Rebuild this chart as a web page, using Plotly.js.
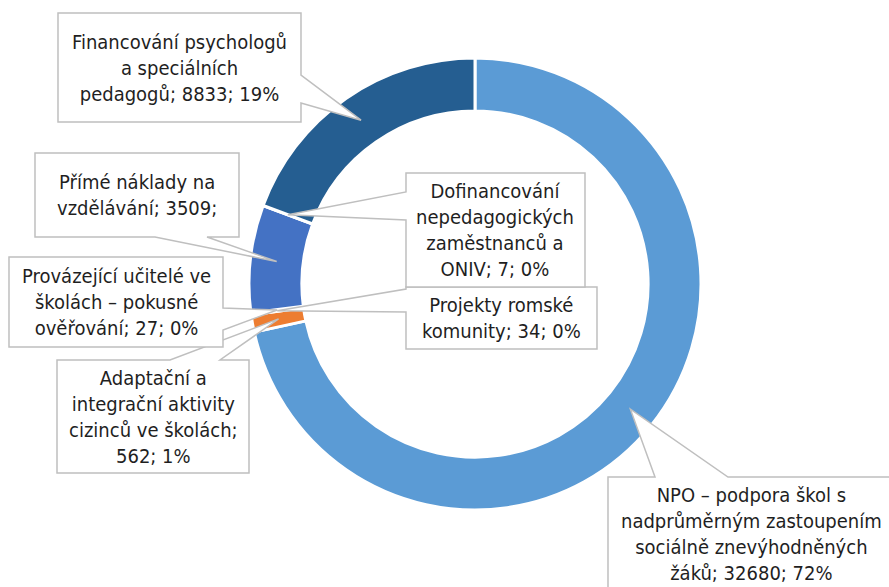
<!DOCTYPE html>
<html>
<head>
<meta charset="utf-8">
<script src="https://cdn.plot.ly/plotly-3.0.1.min.js"></script>
<style>html,body{margin:0;padding:0;background:#fff;}#chart{width:889px;height:587px;}</style>
</head>
<body>
<div id="chart"></div>
<script>
// ---- data ----
const categories = [
  "NPO – podpora škol s nadprůměrným zastoupením sociálně znevýhodněných žáků",
  "Adaptační a integrační aktivity cizinců ve školách",
  "Projekty romské komunity",
  "Provázející učitelé ve školách – pokusné ověřování",
  "Přímé náklady na vzdělávání",
  "Dofinancování nepedagogických zaměstnanců a ONIV",
  "Financování psychologů a speciálních pedagogů"
];
const values = [32680, 562, 34, 27, 3509, 7, 8833];
const labelTexts = [
  "NPO – podpora škol s<br>nadprůměrným zastoupením<br>sociálně znevýhodněných<br>žáků; 32680; 72%",
  "Adaptační a<br>integrační aktivity<br>cizinců ve školách;<br>562; 1%",
  "Projekty romské<br>komunity; 34; 0%",
  "Provázející učitelé ve<br>školách – pokusné<br>ověřování; 27; 0%",
  "Přímé náklady na<br>vzdělávání; 3509;",
  "Dofinancování<br>nepedagogických<br>zaměstnanců a<br>ONIV; 7; 0%",
  "Financování psychologů<br>a speciálních<br>pedagogů; 8833; 19%"
];
const colors = ["#5B9BD5", "#ED7D31", "#A5A5A5", "#FFC000", "#4472C4", "#70AD47", "#255E91"];

// ---- layout (pixels) ----
const W = 889, H = 587;
const cx = 475, cy = 284, R = 226, hole = 0.766;
// callout boxes: [x0, y0, x1, y1], wedge side, wedge base [a, b]
const boxes = [
  {r: [608, 477, 895, 590], side: "top",    base: [655, 728]},
  {r: [57, 360, 249, 473],  side: "top",    base: [170, 220]},
  {r: [406, 287, 597, 349], side: "left",   base: [289, 312]},
  {r: [9, 257, 223, 347],   side: "right",  base: [308, 330]},
  {r: [35, 153, 239, 237],  side: "bottom", base: [155, 207]},
  {r: [406, 173, 585, 287], side: "left",   base: [192, 220]},
  {r: [58, 13, 301, 122],   side: "right",  base: [75, 103]}
];

const px = x => x / W;
const py = y => 1 - y / H;
const P = (x, y) => px(x).toFixed(5) + "," + py(y).toFixed(5);

const total = values.reduce((a, b) => a + b, 0);
const rMid = R * (1 + hole) / 2;
let cum = 0;
const tips = values.map(v => {
  const th = 2 * Math.PI * (cum + v / 2) / total;
  cum += v;
  return [cx + rMid * Math.sin(th), cy - rMid * Math.cos(th)];
});

const shapes = [];
const annotations = [];
boxes.forEach((b, i) => {
  const [x0, y0, x1, y1] = b.r;
  const [a, c] = b.base;
  const [tx, ty] = tips[i];
  let pts;
  if (b.side === "top") pts = [[x0,y0],[a,y0],[tx,ty],[c,y0],[x1,y0],[x1,y1],[x0,y1]];
  else if (b.side === "bottom") pts = [[x0,y0],[x1,y0],[x1,y1],[c,y1],[tx,ty],[a,y1],[x0,y1]];
  else if (b.side === "right") pts = [[x0,y0],[x1,y0],[x1,a],[tx,ty],[x1,c],[x1,y1],[x0,y1]];
  else pts = [[x0,y0],[x1,y0],[x1,y1],[x0,y1],[x0,c],[tx,ty],[x0,a]];
  const path = "M" + pts.map(p => P(p[0], p[1])).join("L") + "Z";
  shapes.push({
    type: "path", xref: "paper", yref: "paper", path: path,
    fillcolor: "#FFFFFF", line: {color: "#BFBFBF", width: 1.5}, layer: "above"
  });
  annotations.push({
    xref: "paper", yref: "paper",
    x: px((x0 + x1) / 2), y: py((y0 + y1) / 2),
    xanchor: "center", yanchor: "middle", align: "center",
    showarrow: false, text: labelTexts[i],
    font: {family: "DejaVu Sans Condensed, DejaVu Sans", size: 20, color: "#1F1F1F"}
  });
});

const trace = {
  type: "pie",
  labels: categories,
  values: values,
  sort: false,
  direction: "clockwise",
  rotation: 0,
  hole: hole,
  textinfo: "none",
  hoverinfo: "label+value+percent",
  marker: {colors: colors, line: {color: "#FFFFFF", width: 3}},
  domain: {x: [px(cx - R), px(cx + R)], y: [py(cy + R), py(cy - R)]},
  showlegend: false
};

const layout = {
  width: W, height: H,
  margin: {l: 0, r: 0, t: 0, b: 0},
  paper_bgcolor: "#FFFFFF",
  showlegend: false,
  shapes: shapes,
  annotations: annotations
};

Plotly.newPlot("chart", [trace], layout, {displayModeBar: false, staticPlot: true});
</script>
</body>
</html>
